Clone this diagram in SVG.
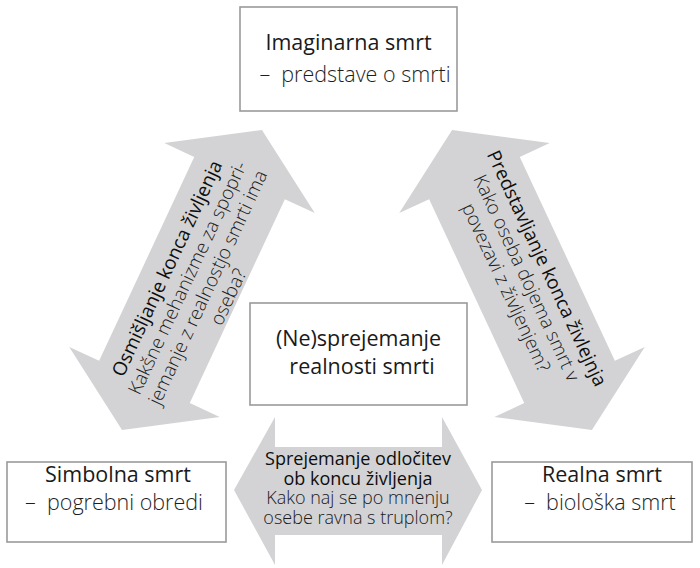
<svg xmlns="http://www.w3.org/2000/svg" width="700" height="568" viewBox="0 0 700 568">
  <style>
    .box { fill: #ffffff; stroke: #9a9a9a; stroke-width: 1.6; }
    .arrow { fill: #d3d3d5; stroke: none; }
    .t { font-family: "Open Sans", "Liberation Sans", sans-serif; text-anchor: middle; }
    .head { font-size: 21.5px; fill: #1a1a1a; }
    .sub { font-size: 21.5px; fill: #1e1e1e; font-weight: 300; }
    .lab { font-size: 18px; fill: #0d0d0d; font-weight: 500; }
    .q { font-size: 18px; fill: #1a1a1a; font-weight: 350; }
    .dl { font-size: 19px; }
  </style>
  <defs>
    <!-- double-headed block arrow along the x axis, centred on the origin -->
    <polygon id="diag" points="165.5,0 112.5,-83 112.5,-50 -112.5,-50 -112.5,-83 -165.5,0 -112.5,83 -112.5,50 112.5,50 112.5,83"/>
  </defs>

  <rect width="700" height="568" fill="#ffffff"/>

  <g id="connectors">
    <g id="arrow-left" transform="translate(192,280) rotate(-65)">
      <use href="#diag" class="arrow"/>
      <text class="t lab dl" x="0" y="-21">Osmišljanje konca življenja</text>
      <text class="t q dl" x="0" y="1.5">Kakšne mehanizme za spopri-</text>
      <text class="t q dl" x="0" y="24">jemanje z realnostjo smrti ima</text>
      <text class="t q dl" x="0" y="46.5">oseba?</text>
    </g>
    <g id="arrow-right" transform="translate(522,280) rotate(65)">
      <use href="#diag" class="arrow"/>
      <text class="t lab dl" x="0" y="-21">Predstavljanje konca živlejnja</text>
      <text class="t q dl" x="0" y="1.5">Kako oseba dojema smrt v</text>
      <text class="t q dl" x="0" y="24">povezavi z življenjem?</text>
    </g>
    <g id="arrow-bottom">
      <polygon class="arrow" points="234,490 275,417 275,447 442,447 442,417 482,490 442,565 442,535 275,535 275,565"/>
      <text class="t lab" x="358" y="465">Sprejemanje odločitev</text>
      <text class="t lab" x="358" y="485">ob koncu življenja</text>
      <text class="t q" x="358" y="504">Kako naj se po mnenju</text>
      <text class="t q" x="358" y="524">osebe ravna s truplom?</text>
    </g>
  </g>

  <g id="imaginarna">
    <rect class="box" x="240" y="7" width="217" height="104"/>
    <text class="t head" x="348.5" y="50">Imaginarna smrt</text>
    <text class="t sub" x="355" y="82">–&#160;&#160;predstave o smrti</text>
  </g>

  <g id="nesprejemanje">
    <rect class="box" x="250" y="303" width="217" height="102"/>
    <text class="t head" x="358.5" y="346">(Ne)sprejemanje</text>
    <text class="t head" x="362" y="374">realnosti smrti</text>
  </g>

  <g id="simbolna">
    <rect class="box" x="7" y="462" width="219" height="80"/>
    <text class="t head" x="118" y="482">Simbolna smrt</text>
    <text class="t sub" x="114" y="510">–&#160;&#160;pogrebni obredi</text>
  </g>

  <g id="realna">
    <rect class="box" x="492" y="462" width="200" height="80"/>
    <text class="t head" x="602" y="482">Realna smrt</text>
    <text class="t sub" x="600" y="510">–&#160;&#160;biološka smrt</text>
  </g>
</svg>
